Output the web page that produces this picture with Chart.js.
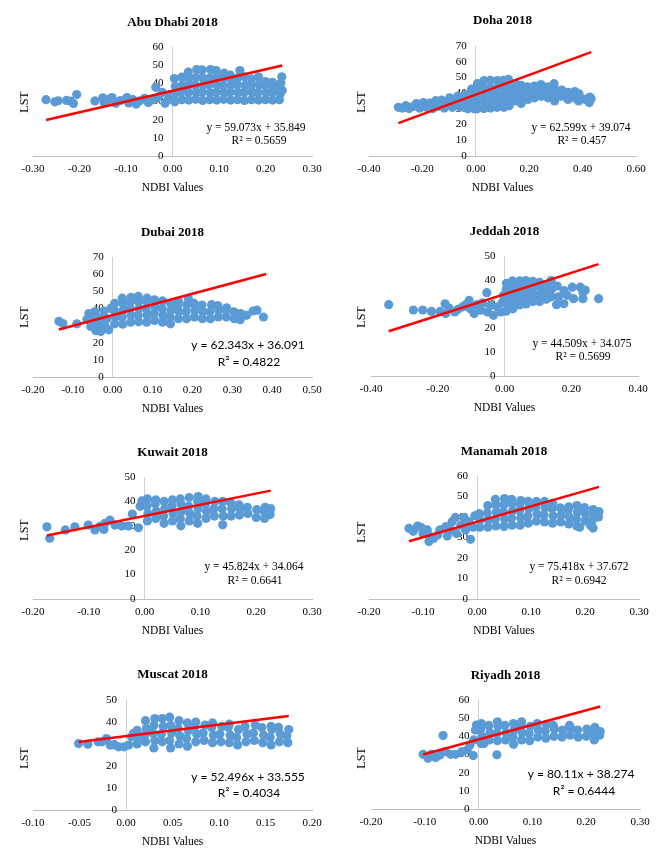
<!DOCTYPE html>
<html>
<head>
<meta charset="utf-8">
<script src="https://cdn.jsdelivr.net/npm/chart.js@4.4.1/dist/chart.umd.min.js"></script>
<style>
  html, body { margin: 0; padding: 0; background: #fff; }
  #page { position: relative; width: 668px; height: 865px; overflow: hidden; }
  #page canvas { position: absolute; }
</style>
</head>
<body>
<div id="page"></div>
<script>
// Puntos NDBI / LST, [ndbi, lst]
const abuDhabi = [
  [-0.272,31.0],[-0.253,29.8],[-0.246,30.4],[-0.228,30.6],[-0.219,30.2],[-0.213,28.9],[-0.206,33.8],[-0.167,30.3],
  [-0.150,32.0],[-0.147,29.4],[-0.138,31.0],[-0.130,32.2],[-0.122,29.0],[-0.112,30.5],[-0.098,32.2],[-0.094,29.2],
  [-0.085,31.0],[-0.078,28.6],[-0.070,30.4],[-0.060,31.8],[-0.052,29.4],[-0.045,30.8],[-0.036,37.8],[-0.030,32.6],
  [-0.022,35.0],[-0.016,29.0],[-0.010,31.0],[-0.005,34.0],
  [0.005,29.8],[0.004,34.0],[0.006,38.2],[0.004,42.6],
  [0.020,31.0],[0.019,35.2],[0.021,39.0],[0.020,43.4],
  [0.035,30.8],[0.034,35.0],[0.036,39.2],[0.035,43.0],[0.034,46.2],
  [0.050,31.2],[0.051,35.0],[0.049,39.0],[0.050,43.2],[0.052,47.6],
  [0.065,30.6],[0.064,35.2],[0.066,39.0],[0.065,43.0],[0.064,47.4],
  [0.080,31.0],[0.081,34.8],[0.079,39.2],[0.080,43.0],[0.082,47.6],
  [0.095,30.8],[0.094,35.0],[0.096,39.0],[0.095,43.2],[0.094,47.0],
  [0.110,31.2],[0.111,35.0],[0.109,39.0],[0.110,43.0],[0.111,45.6],
  [0.125,30.8],[0.124,35.2],[0.126,39.0],[0.125,42.8],[0.124,44.6],
  [0.140,31.0],[0.141,35.0],[0.139,39.2],[0.140,43.0],[0.145,47.0],
  [0.155,30.6],[0.154,35.0],[0.156,39.0],[0.155,43.6],
  [0.170,31.0],[0.171,35.2],[0.169,39.0],[0.170,42.4],
  [0.185,30.8],[0.184,35.0],[0.186,39.2],[0.185,43.6],
  [0.200,31.0],[0.201,35.0],[0.199,39.0],[0.200,41.0],
  [0.215,30.8],[0.214,35.2],[0.216,38.8],[0.215,40.6],
  [0.230,31.0],[0.231,34.0],[0.229,37.2],[0.233,40.2],[0.235,43.6],[0.236,36.0]
];
const doha = [
  [-0.290,31.0],[-0.275,30.5],[-0.262,32.0],[-0.250,30.2],[-0.235,31.5],[-0.222,33.4],[-0.210,30.4],[-0.196,34.0],
  [-0.185,31.0],[-0.172,33.6],[-0.160,30.2],[-0.150,35.2],[-0.140,31.5],[-0.128,35.5],[-0.118,30.5],[-0.108,34.0],
  [-0.098,37.0],[-0.088,31.0],[-0.078,35.0],[-0.068,38.0],[-0.058,31.2],[-0.048,35.0],[-0.040,39.0],[-0.030,30.0],
  [-0.022,34.5],[-0.016,42.5],[-0.010,38.0],[-0.006,30.0],
  [0.005,30.0],[0.006,34.5],[0.004,39.0],[0.005,43.5],[0.006,46.0],
  [0.030,30.2],[0.031,34.5],[0.029,39.0],[0.030,43.5],[0.031,48.0],
  [0.055,30.5],[0.054,34.8],[0.056,39.0],[0.055,43.2],[0.054,48.2],
  [0.080,31.0],[0.081,34.5],[0.079,39.2],[0.080,43.5],[0.081,48.0],
  [0.105,31.0],[0.104,35.0],[0.106,39.0],[0.105,43.5],[0.104,48.2],
  [0.125,32.0],[0.126,36.0],[0.124,40.0],[0.125,44.0],[0.122,48.8],
  [0.150,35.0],[0.151,39.0],[0.149,43.5],[0.150,46.0],
  [0.170,33.4],[0.171,37.0],[0.169,41.0],[0.170,45.0],
  [0.195,36.0],[0.196,40.0],[0.194,44.0],
  [0.220,37.0],[0.221,41.0],[0.219,44.5],
  [0.245,38.0],[0.246,42.0],[0.244,45.5],
  [0.270,37.0],[0.271,41.0],[0.269,44.0],
  [0.295,35.0],[0.296,39.0],[0.294,43.0],[0.293,46.0],
  [0.320,38.0],[0.322,42.0],
  [0.345,36.0],[0.346,40.5],
  [0.370,37.0],[0.371,41.0],
  [0.385,35.0],[0.387,39.5],
  [0.410,36.0],[0.425,34.0],[0.427,37.5],[0.432,36.5]
];
const dubai = [
  [-0.135,32.5],[-0.125,31.2],[-0.090,31.0],[-0.065,33.5],[-0.060,37.0],[-0.055,29.5],[-0.050,33.0],[-0.045,38.0],
  [-0.042,27.0],[-0.035,30.5],[-0.032,34.5],[-0.030,26.5],[-0.022,38.5],[-0.020,30.0],[-0.015,34.0],[-0.010,27.5],
  [-0.005,40.0],
  [0.005,31.0],[0.006,35.0],[0.004,39.0],[0.005,43.0],
  [0.025,30.8],[0.024,35.0],[0.026,39.0],[0.025,43.0],[0.024,46.0],
  [0.045,32.0],[0.046,36.0],[0.044,40.0],[0.045,44.0],[0.046,46.5],
  [0.065,32.2],[0.064,36.0],[0.066,40.0],[0.065,44.0],[0.064,47.0],
  [0.085,32.0],[0.086,36.2],[0.084,40.0],[0.085,44.0],[0.086,46.0],
  [0.105,33.0],[0.104,37.0],[0.106,41.0],[0.105,45.0],
  [0.125,32.0],[0.126,36.0],[0.124,40.0],[0.125,44.4],
  [0.145,31.0],[0.144,35.0],[0.146,39.0],[0.145,43.0],
  [0.165,34.0],[0.166,38.0],[0.164,42.0],[0.165,44.0],
  [0.185,34.0],[0.184,38.0],[0.186,42.0],[0.190,45.6],
  [0.205,35.0],[0.206,39.0],[0.204,43.0],
  [0.225,34.0],[0.226,38.0],[0.224,42.0],
  [0.245,34.0],[0.244,38.0],[0.248,42.2],
  [0.265,35.0],[0.266,39.0],[0.264,41.6],
  [0.285,35.0],[0.284,39.0],[0.286,40.4],
  [0.305,34.0],[0.304,38.0],
  [0.320,33.4],[0.321,37.0],
  [0.336,36.0],[0.352,38.5],[0.362,39.0],[0.378,35.0]
];
const jeddah = [
  [-0.347,29.7],[-0.273,27.5],[-0.245,27.5],[-0.219,26.9],[-0.193,26.9],[-0.178,30.1],[-0.176,26.0],[-0.166,28.3],
  [-0.149,26.7],[-0.139,27.8],[-0.126,28.8],[-0.116,29.7],[-0.106,31.5],[-0.103,28.0],[-0.091,26.0],[-0.083,29.7],
  [-0.071,27.4],[-0.066,30.5],[-0.053,34.7],[-0.051,26.7],[-0.041,29.4],[-0.033,25.3],[-0.021,28.8],[-0.011,26.7],
  [-0.006,30.8],[-0.003,33.6],
  [0.005,27.0],[0.006,30.0],[0.004,33.0],[0.005,36.0],[0.006,38.6],
  [0.025,28.0],[0.024,31.0],[0.026,34.0],[0.025,37.0],[0.024,39.6],
  [0.045,29.6],[0.046,32.0],[0.044,35.0],[0.045,38.0],[0.046,39.6],
  [0.065,30.0],[0.064,33.0],[0.066,36.0],[0.065,38.6],[0.064,39.8],
  [0.085,31.0],[0.086,34.0],[0.084,37.0],[0.085,39.4],
  [0.105,31.0],[0.104,34.0],[0.106,37.0],[0.105,39.0],
  [0.125,32.0],[0.126,35.0],[0.124,38.0],
  [0.140,33.0],[0.141,36.0],[0.140,39.8],
  [0.158,37.5],[0.156,29.7],[0.162,33.0],[0.178,30.1],[0.178,35.6],[0.188,33.6],[0.203,37.0],[0.207,32.2],
  [0.227,37.0],[0.235,34.7],[0.235,32.2],[0.242,35.8],[0.282,32.2]
];
const kuwait = [
  [-0.175,29.6],[-0.170,24.9],[-0.142,28.3],[-0.125,29.6],[-0.101,30.3],[-0.089,28.3],[-0.080,29.8],[-0.071,31.0],
  [-0.073,28.5],[-0.062,32.3],[-0.053,30.3],[-0.041,29.9],[-0.029,29.9],[-0.022,34.8],[-0.011,29.2],[-0.008,38.0],
  [-0.005,40.2],
  [0.005,32.0],[0.006,35.0],[0.004,38.0],[0.005,41.0],
  [0.020,33.0],[0.021,36.0],[0.019,39.0],[0.020,40.6],
  [0.035,31.0],[0.034,34.0],[0.036,37.0],[0.035,40.0],
  [0.050,32.0],[0.051,35.0],[0.049,38.0],[0.050,40.6],
  [0.065,30.0],[0.064,33.0],[0.066,36.0],[0.065,39.0],[0.064,41.0],
  [0.080,32.0],[0.081,35.0],[0.079,38.0],[0.080,41.6],
  [0.095,31.0],[0.094,34.0],[0.096,37.0],[0.095,40.0],[0.096,42.0],
  [0.110,33.0],[0.111,36.0],[0.109,39.0],[0.110,41.0],
  [0.125,34.0],[0.124,37.0],[0.126,40.0],
  [0.140,30.4],[0.141,34.0],[0.139,37.0],[0.140,40.0],
  [0.155,34.0],[0.156,37.0],[0.154,39.6],
  [0.170,34.4],[0.171,37.0],[0.169,38.6],
  [0.185,35.0],[0.184,37.6],
  [0.200,33.4],[0.201,36.6],
  [0.215,33.0],[0.214,36.0],[0.216,37.6],
  [0.225,34.6],[0.226,37.0]
];
const manamah = [
  [-0.126,34.5],[-0.118,33.0],[-0.110,35.6],[-0.103,34.8],[-0.100,32.0],[-0.092,33.7],[-0.089,28.0],[-0.086,30.4],
  [-0.080,29.6],[-0.073,31.2],[-0.069,33.7],[-0.058,35.3],[-0.055,30.7],[-0.049,33.7],[-0.046,37.7],[-0.040,39.8],
  [-0.038,32.0],[-0.030,36.0],[-0.024,39.8],[-0.021,33.7],[-0.015,37.7],[-0.012,29.1],[-0.007,35.0],[-0.004,40.6],
  [0.005,35.0],[0.006,38.5],[0.004,41.6],
  [0.020,35.0],[0.021,38.5],[0.019,42.0],[0.020,45.6],
  [0.035,35.6],[0.034,39.0],[0.036,42.5],[0.035,46.0],[0.034,48.6],
  [0.050,35.4],[0.051,39.0],[0.049,42.5],[0.050,46.0],[0.051,49.0],
  [0.065,36.0],[0.064,39.5],[0.066,43.0],[0.065,46.5],[0.064,48.6],
  [0.080,36.0],[0.081,39.5],[0.079,43.0],[0.080,46.5],[0.081,48.0],
  [0.095,37.0],[0.094,40.5],[0.096,44.0],[0.095,47.6],
  [0.110,38.0],[0.111,41.5],[0.109,45.0],[0.110,47.6],
  [0.125,37.6],[0.124,41.0],[0.126,44.5],[0.125,47.6],
  [0.140,37.0],[0.141,40.5],[0.139,44.0],[0.140,46.6],
  [0.155,37.6],[0.156,41.0],[0.154,44.5],
  [0.170,36.6],[0.171,40.0],[0.169,43.5],[0.170,45.0],
  [0.185,35.6],[0.184,39.0],[0.186,42.5],[0.185,45.6],
  [0.200,38.0],[0.201,41.5],[0.199,44.6],
  [0.215,34.6],[0.214,38.5],[0.216,41.5],[0.215,43.6],
  [0.225,40.0],[0.226,42.6],[0.190,35.0],[0.210,36.0]
];
const muscat = [
  [-0.051,30.2],[-0.041,29.9],[-0.030,31.0],[-0.026,31.0],[-0.021,32.5],[-0.017,29.5],[-0.012,29.5],[-0.008,28.7],
  [-0.002,28.7],[0.003,29.5],[0.006,33.3],[0.008,34.8],
  [0.012,30.0],[0.013,33.0],[0.012,36.2],
  [0.021,31.0],[0.020,34.0],[0.022,37.0],[0.021,40.6],
  [0.030,28.2],[0.031,31.6],[0.029,35.0],[0.030,38.5],[0.031,41.6],
  [0.039,31.0],[0.038,34.6],[0.040,38.0],[0.039,41.6],
  [0.048,28.2],[0.047,31.6],[0.049,35.0],[0.048,38.5],[0.047,42.2],
  [0.057,30.0],[0.058,33.6],[0.056,37.0],[0.057,40.6],
  [0.066,29.0],[0.065,32.5],[0.067,36.0],[0.066,39.6],
  [0.075,31.0],[0.076,34.5],[0.074,38.0],[0.075,40.0],
  [0.084,31.6],[0.083,35.0],[0.085,38.6],
  [0.093,30.6],[0.094,34.0],[0.092,37.5],[0.093,39.6],
  [0.102,31.0],[0.101,34.5],[0.103,38.0],
  [0.111,30.6],[0.112,34.0],[0.110,37.5],[0.111,39.0],
  [0.120,29.6],[0.119,33.0],[0.121,36.6],
  [0.129,31.0],[0.130,34.5],[0.128,38.0],
  [0.138,31.6],[0.137,35.0],[0.139,38.6],
  [0.147,30.6],[0.148,34.0],[0.146,37.5],
  [0.156,29.6],[0.155,33.0],[0.157,36.6],[0.156,38.0],
  [0.165,31.0],[0.166,34.5],[0.164,37.6],
  [0.174,30.6],[0.173,33.6],[0.175,36.6]
];
const riyadh = [
  [-0.103,30.1],[-0.094,27.9],[-0.088,30.1],[-0.080,28.3],[-0.072,29.7],[-0.066,40.4],[-0.062,31.6],[-0.052,30.1],
  [-0.043,30.1],[-0.031,31.6],[-0.021,32.5],[-0.016,35.2],[-0.010,29.4],[-0.009,38.0],[-0.006,43.5],[-0.004,46.2],
  [0.005,36.0],[0.006,40.0],[0.004,44.0],[0.005,47.0],
  [0.020,38.0],[0.021,42.0],[0.019,46.0],
  [0.035,37.6],[0.034,41.5],[0.036,45.5],[0.035,48.0],
  [0.050,38.0],[0.051,42.0],[0.049,46.0],
  [0.065,35.6],[0.064,39.5],[0.066,43.5],[0.065,47.0],
  [0.080,38.0],[0.081,42.0],[0.079,46.0],[0.080,48.0],
  [0.095,37.6],[0.094,41.5],[0.096,45.5],
  [0.110,39.6],[0.111,43.5],[0.109,47.0],
  [0.125,39.0],[0.124,43.0],[0.126,46.6],
  [0.140,40.0],[0.141,44.0],[0.139,46.0],
  [0.155,39.6],[0.156,43.5],
  [0.170,40.6],[0.171,44.5],[0.169,46.0],
  [0.185,39.6],[0.184,43.5],
  [0.200,40.0],[0.201,44.0],
  [0.215,38.0],[0.214,41.5],[0.216,45.0],
  [0.225,40.6],[0.226,42.6],[0.034,29.8],[0.010,36.0]
];

const cityPoints = [abuDhabi, doha, dubai, jeddah, kuwait, manamah, muscat, riyadh];
const cityTitles = ['Abu Dhabi 2018', 'Doha 2018', 'Dubai 2018', 'Jeddah 2018',
                    'Kuwait 2018', 'Manamah 2018', 'Muscat 2018', 'Riyadh 2018'];
const eqTexts = ['y = 59.073x + 35.849', 'y = 62.599x + 39.074', 'y = 62.343x + 36.091', 'y = 44.509x + 34.075',
                 'y = 45.824x + 34.064', 'y = 75.418x + 37.672', 'y = 52.496x + 33.555', 'y = 80.11x + 38.274'];
const r2Texts = ['R² = 0.5659', 'R² = 0.457', 'R² = 0.4822', 'R² = 0.5699',
                 'R² = 0.6641', 'R² = 0.6942', 'R² = 0.4034', 'R² = 0.6444'];
const slopes = [59.073, 62.599, 62.343, 44.509, 45.824, 75.418, 52.496, 80.11];
const intercepts = [35.849, 39.074, 36.091, 34.075, 34.064, 37.672, 33.555, 38.274];
const trendFrom = [-0.272, -0.290, -0.135, -0.347, -0.175, -0.126, -0.051, -0.103];
const trendTo = [0.236, 0.432, 0.385, 0.282, 0.226, 0.226, 0.175, 0.226];
const xMins = [-0.3, -0.4, -0.2, -0.4, -0.2, -0.2, -0.1, -0.2];
const xMaxs = [0.3, 0.6, 0.5, 0.4, 0.3, 0.3, 0.2, 0.3];
const xSteps = [0.1, 0.2, 0.1, 0.2, 0.1, 0.1, 0.05, 0.1];
const yMaxs = [60, 70, 70, 50, 50, 60, 50, 60];

// Posición de cada panel en la página (px)
const panels = [
  {left: 0,   top: 0,   h: 215, titleY: 23, plotTop: 47, plotBottom: 156, plotLeft: 33, plotRight: 312, lstX: 25, lstY: 102, eqX: 256, eqY: 128, r2X: 259, r2Y: 141, sans: false},
  {left: 334, top: 0,   h: 215, titleY: 21, plotTop: 46, plotBottom: 156, plotLeft: 35, plotRight: 302, lstX: 28, lstY: 102, eqX: 247, eqY: 128, r2X: 248, r2Y: 141, sans: false},
  {left: 0,   top: 215, h: 215, titleY: 18, plotTop: 42, plotBottom: 162, plotLeft: 33, plotRight: 312, lstX: 25, lstY: 102, eqX: 248, eqY: 130, r2X: 249, r2Y: 147, sans: true},
  {left: 334, top: 215, h: 215, titleY: 17, plotTop: 41, plotBottom: 161, plotLeft: 37, plotRight: 304, lstX: 28, lstY: 102, eqX: 248, eqY: 129, r2X: 249, r2Y: 142, sans: false},
  {left: 0,   top: 430, h: 215, titleY: 23, plotTop: 47, plotBottom: 169, plotLeft: 33, plotRight: 312, lstX: 25, lstY: 100, eqX: 254, eqY: 137, r2X: 255, r2Y: 151, sans: false},
  {left: 334, top: 430, h: 215, titleY: 22, plotTop: 46, plotBottom: 169, plotLeft: 35, plotRight: 305, lstX: 28, lstY: 102, eqX: 245, eqY: 137, r2X: 245, r2Y: 151, sans: false},
  {left: 0,   top: 645, h: 220, titleY: 30, plotTop: 55, plotBottom: 165, plotLeft: 33, plotRight: 312, lstX: 25, lstY: 113, eqX: 248, eqY: 132, r2X: 249, r2Y: 148, sans: true},
  {left: 334, top: 645, h: 220, titleY: 31, plotTop: 55, plotBottom: 164, plotLeft: 37, plotRight: 306, lstX: 28, lstY: 113, eqX: 247, eqY: 129, r2X: 250, r2Y: 146, sans: true}
];

const SERIF = "'Liberation Serif', 'Times New Roman', serif";
const SANS = "Lato, 'Liberation Sans', sans-serif";
const PANEL_W = 334;
const X_AXIS_H = 39;
const Y_LABEL_GAP = 9; // hueco entre las cifras del eje Y y la línea x = 0

Chart.defaults.font.family = SERIF;
Chart.defaults.font.size = 11;
Chart.defaults.color = '#000';

// Texto extra: etiqueta LST y ecuación de la recta
const panelText = {
  id: 'panelText',
  afterDraw(chart, args, opts) {
    const ctx = chart.ctx;
    ctx.save();
    ctx.fillStyle = '#000';
    ctx.textAlign = 'center';
    ctx.textBaseline = 'middle';
    ctx.font = '12px ' + SERIF;
    ctx.translate(opts.lstX, opts.lstY);
    ctx.rotate(-Math.PI / 2);
    ctx.fillText('LST', 0, 0);
    ctx.setTransform(1, 0, 0, 1, 0, 0);
    ctx.font = opts.sans ? '12px ' + SANS : '11.5px ' + SERIF;
    ctx.fillText(opts.eq, opts.eqX, opts.eqY);
    ctx.fillText(opts.r2, opts.r2X, opts.r2Y);
    ctx.restore();
  }
};

const page = document.getElementById('page');

cityPoints.forEach((pts, i) => {
  const p = panels[i];
  const canvas = document.createElement('canvas');
  canvas.width = PANEL_W;
  canvas.height = p.h;
  canvas.style.left = p.left + 'px';
  canvas.style.top = p.top + 'px';
  page.appendChild(canvas);

  // las cifras del eje Y van un poco a la izquierda de x = 0
  const yAxisAt = -Y_LABEL_GAP * (xMaxs[i] - xMins[i]) / (p.plotRight - p.plotLeft);

  new Chart(canvas, {
    type: 'scatter',
    data: {
      datasets: [
        {
          type: 'line',
          data: [
            {x: trendFrom[i], y: slopes[i] * trendFrom[i] + intercepts[i]},
            {x: trendTo[i], y: slopes[i] * trendTo[i] + intercepts[i]}
          ],
          borderColor: '#ff0000',
          borderWidth: 2.5,
          pointRadius: 0,
          order: 0
        },
        {
          data: pts.map(([x, y]) => ({x, y})),
          backgroundColor: '#5b9bd5',
          borderColor: '#5b9bd5',
          borderWidth: 0,
          pointRadius: 4.6,
          order: 1
        }
      ]
    },
    options: {
      responsive: false,
      animation: false,
      layout: {
        padding: {left: p.plotLeft, right: PANEL_W - p.plotRight, top: 0, bottom: p.h - p.plotBottom - X_AXIS_H}
      },
      plugins: {
        legend: {display: false},
        tooltip: {enabled: false},
        title: {
          display: true,
          text: cityTitles[i],
          color: '#000',
          font: {size: 13, weight: 'bold', family: SERIF},
          padding: {top: p.titleY - 7.8, bottom: p.plotTop - p.titleY - 7.8}
        },
        panelText: {
          lstX: p.lstX, lstY: p.lstY, eq: eqTexts[i], r2: r2Texts[i],
          eqX: p.eqX, eqY: p.eqY, r2X: p.r2X, r2Y: p.r2Y, sans: p.sans
        }
      },
      scales: {
        x: {
          type: 'linear',
          position: 'bottom',
          min: xMins[i],
          max: xMaxs[i],
          ticks: {
            stepSize: xSteps[i],
            padding: 7,
            autoSkip: false,
            callback: v => (Math.abs(v) < 1e-9 ? 0 : v).toFixed(2)
          },
          // solo la línea vertical en x = 0
          grid: {
            display: true,
            drawTicks: false,
            drawOnChartArea: true,
            color: ctx => (ctx.tick && Math.abs(ctx.tick.value) < 1e-9 ? '#d0d0d0' : 'rgba(0,0,0,0)')
          },
          border: {color: '#bfbfbf', width: 1},
          title: {display: true, text: 'NDBI Values', font: {size: 11.5}, padding: 0},
          afterFit: s => { s.height = X_AXIS_H; }
        },
        y: {
          type: 'linear',
          position: {x: yAxisAt},
          min: 0,
          max: yMaxs[i],
          ticks: {stepSize: 10, padding: 0, autoSkip: false},
          grid: {display: true, drawOnChartArea: false, drawTicks: false},
          border: {display: false}
        }
      }
    },
    plugins: [panelText]
  });
});
</script>
</body>
</html>
